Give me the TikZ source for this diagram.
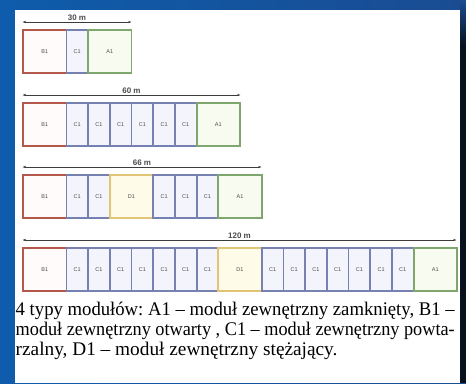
\documentclass[tikz,border=0pt]{standalone}
\usepackage{fontspec}
\usepackage{graphicx}
\setmainfont{Liberation Serif}
\newfontfamily\labfont{Liberation Sans}
\usetikzlibrary{arrows.meta,positioning}
\definecolor{frameblue}{HTML}{0E5CAB}
\definecolor{frameblueR}{HTML}{1A4C92}
\definecolor{framedark}{HTML}{08121F}
\definecolor{colB}{HTML}{B4584C}
\definecolor{fillB}{HTML}{FFFBFA}
\definecolor{colC}{HTML}{7681B2}
\definecolor{fillC}{HTML}{F4F5FC}
\definecolor{colA}{HTML}{7FA66C}
\definecolor{fillA}{HTML}{F7FBF0}
\definecolor{colD}{HTML}{E2C476}
\definecolor{fillD}{HTML}{FFFBE9}
\definecolor{dimcol}{HTML}{3C3C3C}
\newcommand{\fitline}[1]{\resizebox{439pt}{\height}{\mbox{#1}}}
\begin{document}
\frenchspacing
\begin{tikzpicture}[x=1pt,y=-1pt,
  mod/.style={draw, line width=1.8pt, outer sep=0pt, inner sep=0pt,
    minimum height=43pt, font=\labfont\fontsize{5.5}{6}\selectfont, text=black!70},
  modB/.style={mod, draw=colB, fill=fillB, minimum width=43.4pt},
  modC/.style={mod, draw=colC, fill=fillC, minimum width=21.7pt},
  modA/.style={mod, draw=colA, fill=fillA, minimum width=43.4pt},
  modD/.style={mod, draw=colD, fill=fillD, minimum width=43.4pt},
  dimline/.style={draw=dimcol, line width=0.7pt,
    arrows={Latex[length=3.5pt,width=2.4pt]-Latex[length=3.5pt,width=2.4pt]}},
  dimlab/.style={font=\labfont\bfseries\fontsize{8}{9}\selectfont, text=black!70,
    inner sep=0.8pt, above},
  capline/.style={font=\fontsize{19.3}{20}\selectfont, inner sep=0pt, anchor=base west}
]
\useasboundingbox (0,0) rectangle (466,383);
% frame
\shade[left color=frameblue, right color=frameblueR] (0,0) rectangle (466,383);
\fill[frameblue] (0,0) rectangle (15,383);
\shade[top color=frameblueR, bottom color=framedark] (460,0) rectangle (466,45);
\fill[framedark] (460,45) rectangle (466,383);
\fill[white] (15,10) rectangle (460,383);

% ---------- row 1 : 30 m
\coordinate (d1l) at (22,22);
\coordinate (d1r) at (132,22);
\draw[dimline] (d1l) -- node[dimlab] (l1) {30 m} (d1r);
\node[modB, anchor=north west] (r1a) at (23,30) {B1};
\node[modC, right=0pt of r1a] (r1b) {C1};
\node[modA, right=0pt of r1b] (r1c) {A1};

% ---------- row 2 : 60 m
\coordinate (d2l) at (22,95);
\coordinate (d2r) at (241,95);
\draw[dimline] (d2l) -- node[dimlab] (l2) {60 m} (d2r);
\node[modB, anchor=north west] (r2a) at (23,103) {B1};
\node[modC, right=0pt of r2a] (r2b) {C1};
\node[modC, right=0pt of r2b] (r2c) {C1};
\node[modC, right=0pt of r2c] (r2d) {C1};
\node[modC, right=0pt of r2d] (r2e) {C1};
\node[modC, right=0pt of r2e] (r2f) {C1};
\node[modC, right=0pt of r2f] (r2g) {C1};
\node[modA, right=0pt of r2g] (r2h) {A1};

% ---------- row 3 : 66 m
\coordinate (d3l) at (22,167);
\coordinate (d3r) at (262,167);
\draw[dimline] (d3l) -- node[dimlab] (l3) {66 m} (d3r);
\node[modB, anchor=north west] (r3a) at (23,175) {B1};
\node[modC, right=0pt of r3a] (r3b) {C1};
\node[modC, right=0pt of r3b] (r3c) {C1};
\node[modD, right=0pt of r3c] (r3d) {D1};
\node[modC, right=0pt of r3d] (r3e) {C1};
\node[modC, right=0pt of r3e] (r3f) {C1};
\node[modC, right=0pt of r3f] (r3g) {C1};
\node[modA, right=0pt of r3g] (r3h) {A1};

% ---------- row 4 : 120 m
\coordinate (d4l) at (22,240);
\coordinate (d4r) at (457,240);
\draw[dimline] (d4l) -- node[dimlab] (l4) {120 m} (d4r);
\node[modB, anchor=north west] (r4a) at (23,248) {B1};
\node[modC, right=0pt of r4a] (r4b) {C1};
\node[modC, right=0pt of r4b] (r4c) {C1};
\node[modC, right=0pt of r4c] (r4d) {C1};
\node[modC, right=0pt of r4d] (r4e) {C1};
\node[modC, right=0pt of r4e] (r4f) {C1};
\node[modC, right=0pt of r4f] (r4g) {C1};
\node[modC, right=0pt of r4g] (r4h) {C1};
\node[modD, right=0pt of r4h] (r4i) {D1};
\node[modC, right=0pt of r4i] (r4j) {C1};
\node[modC, right=0pt of r4j] (r4k) {C1};
\node[modC, right=0pt of r4k] (r4l) {C1};
\node[modC, right=0pt of r4l] (r4m) {C1};
\node[modC, right=0pt of r4m] (r4n) {C1};
\node[modC, right=0pt of r4n] (r4o) {C1};
\node[modC, right=0pt of r4o] (r4p) {C1};
\node[modA, right=0pt of r4p] (r4q) {A1};

% ---------- caption
\node[capline] (cap1) at (15.5,315) {\fitline{4 typy modułów: A1 – moduł zewnętrzny zamknięty, B1 –}};
\node[capline] (cap2) at (15.5,335) {\fitline{moduł zewnętrzny otwarty , C1 – moduł zewnętrzny powta-}};
\node[capline] (cap3) at (15.5,355) {rzalny, D1 – moduł zewnętrzny stężający.};
\end{tikzpicture}
\end{document}
